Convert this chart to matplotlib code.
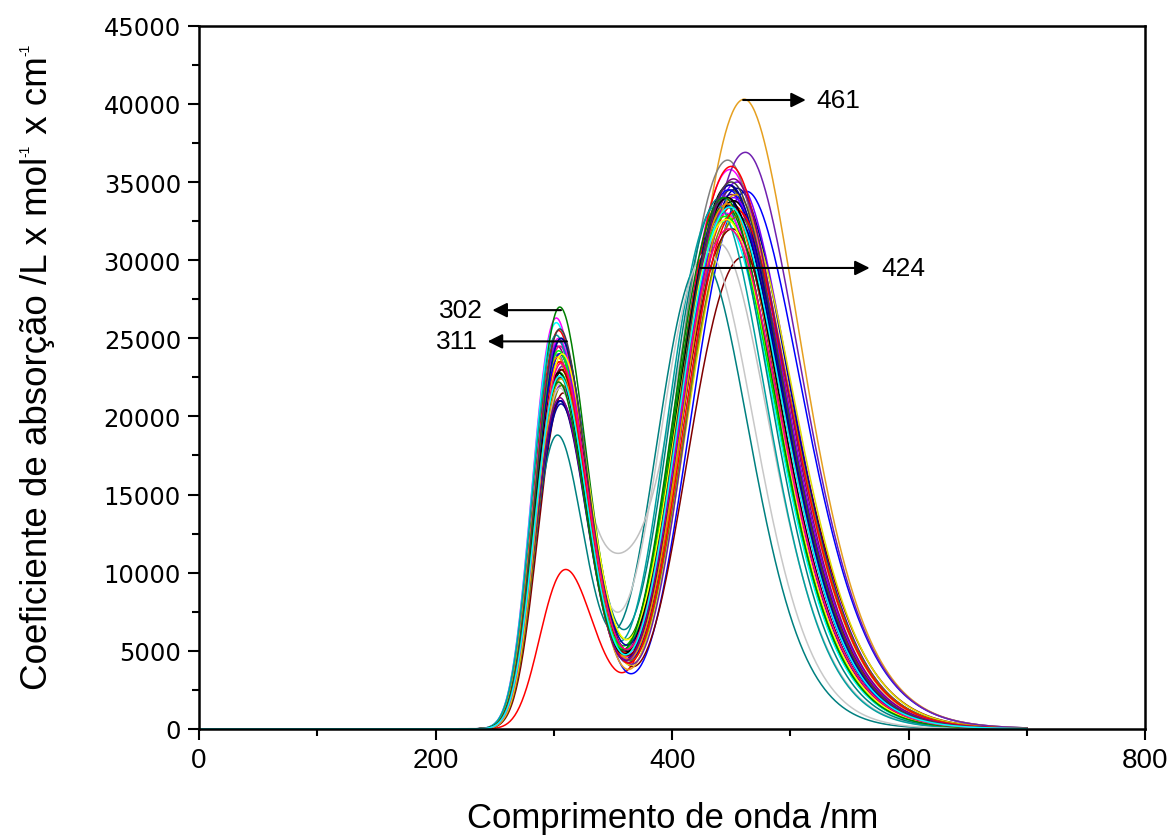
import numpy as np
import matplotlib
matplotlib.use("Agg")
import matplotlib.pyplot as plt
from matplotlib.ticker import MultipleLocator

# ---------------- data (band parameters) ----------------
colors = ['#000000', '#FF0000', '#0000FF', '#FF00FF', '#808000', '#000080', '#8000FF',
          '#800080', '#800000', '#008080', '#0000A0', '#E6A020', '#C0C0C0', '#808080',
          '#00C000', '#00FFFF', '#E0E000', '#FF0080', '#404040', '#008000', '#7020B0',
          '#FF0000', '#008080', '#000000', '#0000FF', '#FF00FF', '#808000', '#000080',
          '#8000FF', '#FF8000', '#800000', '#00A0A0', '#C8C8C8', '#E0A000', '#00FF00',
          '#0000A0', '#FF0000', '#000000', '#800080', '#FFFF00', '#008000', '#404040',
          '#FF0080', '#00FFFF']
band1_nm = [305, 310, 306, 302, 305, 304, 306, 303, 308, 303, 306, 304, 304, 303,
            305, 302, 306, 305, 306, 305, 307, 304, 306, 307, 305, 304, 307, 305,
            304, 303, 306, 302, 305, 306, 304, 306, 305, 304, 305, 307, 304, 305,
            306, 305]
band1_eps = [24000, 10200, 21000, 26300, 22500, 23500, 22000, 24500, 21500, 18800,
             20800, 23500, 22000, 24000, 22800, 26000, 23000, 24500, 22500, 27000,
             23200, 25500, 25000, 23000, 24000, 25000, 22000, 21000, 24800, 23800,
             23000, 25200, 21800, 22400, 24200, 25000, 23500, 22800, 21200, 24000,
             22200, 25600, 23400, 22600]
band2_nm = [448, 452, 463, 449, 452, 446, 455, 450, 460, 426, 455, 461, 440, 447,
            444, 444, 458, 452, 450, 445, 462, 450, 441, 452, 448, 446, 456, 450,
            452, 447, 451, 438, 430, 454, 445, 449, 455, 447, 452, 446, 444, 450,
            448, 449]
band2_eps = [34800, 33500, 34400, 35800, 33000, 34000, 35000, 34200, 30200, 30000,
             34600, 40300, 31000, 36400, 33000, 32500, 33200, 33800, 34500, 33500,
             36900, 36000, 34000, 33800, 34500, 33000, 32800, 33500, 34000, 33600,
             32000, 33500, 30500, 34200, 32800, 34800, 33200, 34000, 35200, 32600,
             34000, 35000, 32000, 33400]
band3_eps = [0, 0, 0, 0, 0, 0, 0, 0, 0, 0, 0, 0, 6000, 0, 0, 0, 0, 0, 0, 0, 0, 0,
             0, 0, 0, 0, 0, 0, 0, 0, 0, 0, 600, 0, 0, 0, 0, 0, 0, 0, 0, 0, 0, 0]
band3_nm = 359

y_ticks = [0, 5000, 10000, 15000, 20000, 25000, 30000, 35000, 40000, 45000]
x_ticks = [0, 200, 400, 600, 800]

# band widths in eV (high-energy side / low-energy side)
S1_HI, S1_LO = 0.29, 0.30
S2_HI, S2_LO = 0.29, 0.255
S3 = 0.21
HC = 1239.84

wl = np.arange(0, 701, 1.0)
energy = HC / np.maximum(wl, 0.5)


def band(e, center_nm, amp, s_hi, s_lo):
    e0 = HC / center_nm
    s = np.where(e >= e0, s_hi, s_lo)
    return amp * np.exp(-0.5 * ((e - e0) / s) ** 2)


W, H = 1171, 837
fig = plt.figure(figsize=(W / 100, H / 100), dpi=100)
ax = fig.add_axes([0.170, 0.128, 0.808, 0.840])

for c, l1, a1, l2, a2, a3 in zip(colors, band1_nm, band1_eps, band2_nm, band2_eps, band3_eps):
    spec = band(energy, l1, a1, S1_HI, S1_LO) + band(energy, l2, a2, S2_HI, S2_LO)
    if a3:
        spec = spec + band(energy, band3_nm, a3, S3, S3)
    ax.plot(wl, spec, color=c, lw=1.1, zorder=2)

ax.set_xlim(0, 800)
ax.set_ylim(0, 45000)
ax.set_xticks(x_ticks)
ax.set_yticks(y_ticks)
ax.xaxis.set_minor_locator(MultipleLocator(100))
ax.yaxis.set_minor_locator(MultipleLocator(2500))
ax.tick_params(which='major', direction='out', length=8, width=1.5, top=False, right=False, pad=5)
ax.tick_params(which='minor', direction='out', length=5, width=1.5, top=False, right=False)
for sp in ax.spines.values():
    sp.set_linewidth(1.8)

for lab in ax.get_xticklabels():
    lab.set_fontfamily(['Liberation Sans', 'DejaVu Sans'])
    lab.set_fontsize(20)
for lab in ax.get_yticklabels():
    lab.set_fontfamily(['DejaVu Sans'])
    lab.set_fontsize(17.5)

ax.set_xlabel('Comprimento de onda /nm', family=['Liberation Sans', 'DejaVu Sans'],
              fontsize=25, labelpad=20)

# y label built from pieces so the superscripts stay small
fam = ['Liberation Sans', 'DejaVu Sans']
pieces = [('Coeficiente de absorção /L x mol', 26.5, 0), ('-1', 10, 18),
          (' x cm', 26.5, 0), ('-1', 10, 18)]
renderer = fig.canvas.get_renderer()
base_x = 47.0
texts = []
y = 0.0
for s, fs, rise in pieces:
    t = fig.text((base_x - rise) / W, y / H, s, rotation=90, rotation_mode='anchor',
                 ha='left', va='baseline', fontsize=fs, family=fam)
    ext = t.get_window_extent(renderer)
    texts.append((t, y))
    y = y + ext.height + (1 if rise else 0)
start = (H - 690) + 0.0
for (t, y0), (s, fs, rise) in zip(texts, pieces):
    t.set_position(((base_x - rise) / W, (start + y0) / H))

# annotations
arrow = dict(arrowstyle='-|>', color='black', lw=1.5, mutation_scale=22, shrinkA=0, shrinkB=0)
af = dict(fontsize=19, family=['Liberation Sans'], va='center')
ax.annotate('', xy=(248, 26800), xytext=(306, 26800), arrowprops=arrow)
ax.text(240, 26800, '302', ha='right', **af)
ax.annotate('', xy=(244, 24800), xytext=(311, 24800), arrowprops=arrow)
ax.text(236, 24800, '311', ha='right', **af)
ax.annotate('', xy=(513, 40250), xytext=(460, 40250), arrowprops=arrow)
ax.text(522, 40250, '461', ha='left', **af)
ax.annotate('', xy=(567, 29500), xytext=(424, 29500), arrowprops=arrow)
ax.text(577, 29500, '424', ha='left', **af)

fig.savefig('out.png', dpi=100)
